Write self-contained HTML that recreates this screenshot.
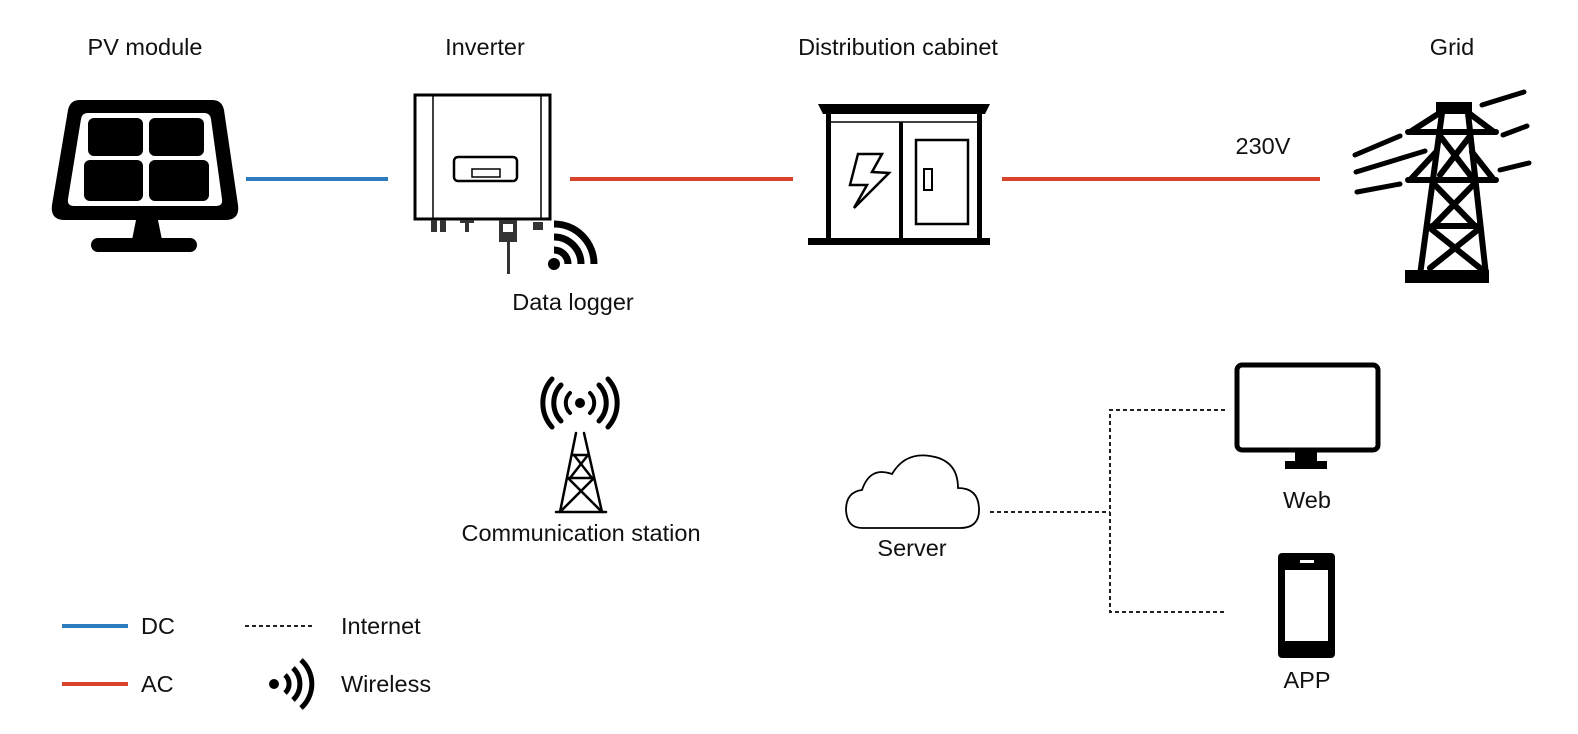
<!DOCTYPE html>
<html><head><meta charset="utf-8"><style>
html,body{margin:0;padding:0;background:#fff;}
svg{display:block;}
text{font-family:"Liberation Sans",Arial,sans-serif;font-size:23.5px;fill:#111;}
</style></head><body>
<svg width="1578" height="734" viewBox="0 0 1578 734" xmlns="http://www.w3.org/2000/svg">
<!-- Labels -->
<text x="145" y="55" text-anchor="middle">PV module</text>
<text x="485" y="55" text-anchor="middle">Inverter</text>
<text x="898" y="55" text-anchor="middle">Distribution cabinet</text>
<text x="1452" y="55" text-anchor="middle">Grid</text>
<text x="1263" y="154" text-anchor="middle">230V</text>
<text x="573" y="310" text-anchor="middle">Data logger</text>
<text x="581" y="541" text-anchor="middle">Communication station</text>
<text x="912" y="556" text-anchor="middle">Server</text>
<text x="1307" y="508" text-anchor="middle">Web</text>
<text x="1307" y="688" text-anchor="middle">APP</text>
<text x="141" y="634">DC</text>
<text x="141" y="692">AC</text>
<text x="341" y="634">Internet</text>
<text x="341" y="692">Wireless</text>

<!-- lines -->
<line x1="246" y1="179" x2="388" y2="179" stroke="#2b7bbd" stroke-width="4"/>
<line x1="570" y1="179" x2="793" y2="179" stroke="#d9432c" stroke-width="4"/>
<line x1="1002" y1="179" x2="1320" y2="179" stroke="#d9432c" stroke-width="4"/>
<line x1="62" y1="626" x2="128" y2="626" stroke="#2b7bbd" stroke-width="4"/>
<line x1="62" y1="684" x2="128" y2="684" stroke="#d9432c" stroke-width="4"/>
<g stroke="#222" stroke-width="2" stroke-dasharray="4,3" fill="none">
<line x1="245" y1="626" x2="315" y2="626"/>
<line x1="990" y1="512" x2="1110" y2="512"/>
<polyline points="1225,410 1110,410 1110,612 1225,612"/>
</g>

<!-- Solar panel -->
<path d="M80,100 L212,100 Q222,100 224,110 L238,205 Q240,220 225,220 L65,220 Q50,220 52,205 L68,110 Q70,100 80,100Z" fill="#000"/>
<path d="M88,113 L204,113 Q210,113 211,119 L222,199 Q223,206 216,206 L74,206 Q67,206 68,199 L81,119 Q82,113 88,113Z" fill="#fff"/>
<rect x="88" y="118" width="55" height="38" rx="6" fill="#000"/>
<rect x="149" y="118" width="55" height="38" rx="6" fill="#000"/>
<rect x="84" y="160" width="59" height="41" rx="6" fill="#000"/>
<rect x="149" y="160" width="60" height="41" rx="6" fill="#000"/>
<path d="M136,220 L158,220 L162,240 L132,240Z" fill="#000"/>
<rect x="91" y="238" width="106" height="14" rx="7" fill="#000"/>

<!-- Inverter -->
<rect x="415" y="95" width="135" height="124" fill="#fff" stroke="#000" stroke-width="3"/>
<line x1="433" y1="95" x2="433" y2="219" stroke="#000" stroke-width="1.5"/>
<line x1="541" y1="95" x2="541" y2="219" stroke="#000" stroke-width="1.5"/>
<rect x="454" y="157" width="63" height="24" rx="4" fill="none" stroke="#000" stroke-width="2.5"/>
<rect x="472" y="169" width="28" height="8" fill="none" stroke="#000" stroke-width="1.5"/>
<g fill="#333">
<rect x="431" y="220" width="6" height="12"/><rect x="440" y="220" width="6" height="12"/>
<rect x="465" y="220" width="4" height="12"/><rect x="460" y="220" width="14" height="3"/>
<rect x="499" y="220" width="18" height="22"/>
<rect x="507" y="242" width="3" height="32"/>
<rect x="533" y="222" width="10" height="8"/>
</g>
<rect x="503" y="224" width="10" height="8" fill="#fff"/>
<!-- wifi -->
<circle cx="554" cy="264" r="6" fill="#000"/>
<path d="M554,250 A14,14 0 0 1 568,264" fill="none" stroke="#000" stroke-width="7"/>
<path d="M554,237 A27,27 0 0 1 581,264" fill="none" stroke="#000" stroke-width="7"/>
<path d="M554,224 A40,40 0 0 1 594,264" fill="none" stroke="#000" stroke-width="7"/>

<!-- Cabinet -->
<path d="M818,104 L990,104 L985,114 L823,114Z" fill="#000"/>
<rect x="826" y="114" width="5" height="126" fill="#000"/>
<rect x="977" y="114" width="5" height="126" fill="#000"/>
<line x1="831" y1="122" x2="977" y2="122" stroke="#000" stroke-width="1.5"/>
<rect x="899" y="122" width="4" height="118" fill="#000"/>
<rect x="916" y="140" width="52" height="84" fill="none" stroke="#000" stroke-width="2.5"/>
<rect x="924" y="169" width="8" height="21" fill="none" stroke="#000" stroke-width="2"/>
<path d="M858,154 L882,154 L872,172 L889,173 L854,208 L867,185 L850,185Z" fill="none" stroke="#000" stroke-width="2.5"/>
<rect x="808" y="238" width="182" height="7" fill="#000"/>

<!-- Grid tower -->
<g stroke="#000" stroke-linecap="round" fill="none">
<g stroke-width="5">
<line x1="1355" y1="155" x2="1400" y2="136"/>
<line x1="1356" y1="172" x2="1425" y2="151"/>
<line x1="1357" y1="192" x2="1400" y2="184"/>
<line x1="1482" y1="105" x2="1524" y2="92"/>
<line x1="1503" y1="135" x2="1527" y2="126"/>
<line x1="1500" y1="170" x2="1529" y2="163"/>
</g>
<g stroke-width="6">
<line x1="1442" y1="113" x2="1420" y2="275"/>
<line x1="1468" y1="113" x2="1486" y2="275"/>
<line x1="1408" y1="132" x2="1496" y2="132"/>
<line x1="1408" y1="180" x2="1496" y2="180"/>
<line x1="1438" y1="114" x2="1410" y2="132"/>
<line x1="1470" y1="114" x2="1494" y2="132"/>
<line x1="1436" y1="152" x2="1410" y2="180"/>
<line x1="1472" y1="152" x2="1494" y2="180"/>
<line x1="1440" y1="136" x2="1470" y2="175"/>
<line x1="1470" y1="136" x2="1440" y2="175"/>
<line x1="1434" y1="184" x2="1474" y2="225"/>
<line x1="1474" y1="184" x2="1434" y2="225"/>
<line x1="1430" y1="228" x2="1480" y2="268"/>
<line x1="1480" y1="228" x2="1430" y2="268"/>
<line x1="1432" y1="226" x2="1478" y2="226"/>
</g>
</g>
<rect x="1436" y="102" width="36" height="12" fill="#000"/>
<rect x="1405" y="270" width="84" height="13" fill="#000"/>

<!-- Communication station -->
<g stroke="#000" fill="none" stroke-linecap="round">
<circle cx="580" cy="403" r="5" fill="#000" stroke="none"/>
<path d="M570,393 A14,14 0 0 0 570,413" stroke-width="4"/>
<path d="M590,393 A14,14 0 0 1 590,413" stroke-width="4"/>
<path d="M561,385 A26,26 0 0 0 561,421" stroke-width="5"/>
<path d="M599,385 A26,26 0 0 1 599,421" stroke-width="5"/>
<path d="M552,379 A36,36 0 0 0 552,427" stroke-width="5"/>
<path d="M608,379 A36,36 0 0 1 608,427" stroke-width="5"/>
<g stroke-width="2.5">
<line x1="576" y1="433" x2="560" y2="512"/>
<line x1="584" y1="433" x2="602" y2="512"/>
<line x1="572" y1="455" x2="588" y2="455"/>
<line x1="568" y1="478" x2="594" y2="478"/>
<line x1="574" y1="455" x2="592" y2="478"/>
<line x1="588" y1="455" x2="570" y2="478"/>
<line x1="568" y1="478" x2="600" y2="510"/>
<line x1="594" y1="478" x2="562" y2="510"/>
<line x1="556" y1="512" x2="606" y2="512"/>
</g>
</g>

<!-- Cloud -->
<path d="M862,528 L960,528 Q980,528 979,508 Q978,488 958,488 Q958,460 930,456 Q905,452 892,474 Q870,466 862,490 Q846,492 846,510 Q847,528 862,528Z" fill="#fff" stroke="#000" stroke-width="1.8"/>

<!-- Monitor -->
<rect x="1237" y="365" width="141" height="85" rx="5" fill="none" stroke="#000" stroke-width="5"/>
<rect x="1295" y="450" width="22" height="12" fill="#000"/>
<rect x="1285" y="461" width="42" height="8" fill="#000"/>

<!-- Phone -->
<rect x="1278" y="553" width="57" height="105" rx="4" fill="#000"/>
<rect x="1285" y="570" width="43" height="71" fill="#fff"/>
<rect x="1300" y="560" width="14" height="3" fill="#fff"/>

<!-- Legend wireless -->
<circle cx="274" cy="684" r="5" fill="#000"/>
<g stroke="#000" fill="none" stroke-width="5">
<path d="M285,675 A12,12 0 0 1 285,693"/>
<path d="M293,668 A22,22 0 0 1 293,700"/>
<path d="M301,660 A32,32 0 0 1 301,708"/>
</g>
</svg>
</body></html>
